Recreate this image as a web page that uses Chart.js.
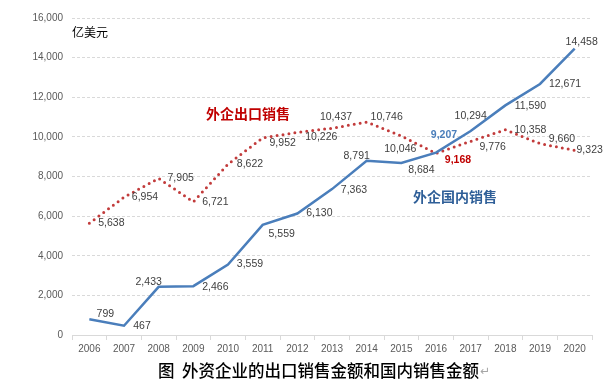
<!DOCTYPE html>
<html>
<head>
<meta charset="utf-8">
<script src="https://cdn.jsdelivr.net/npm/chart.js@4.4.0/dist/chart.umd.min.js"></script>
<style>
html,body{margin:0;padding:0;background:#fff;}
#wrap{width:605px;height:384px;position:relative;}
</style>
</head>
<body>
<div id="wrap"><canvas id="c" width="605" height="384"></canvas></div>
<script>
const years = ['2006','2007','2008','2009','2010','2011','2012','2013','2014','2015','2016','2017','2018','2019','2020'];
const domesticSales = [799,467,2433,2466,3559,5559,6130,7363,8791,8684,9207,10294,11590,12671,14458];
const exportSales = [5638,6954,7905,6721,8622,9952,10226,10437,10746,10046,9168,9776,10358,9660,9323];
const domesticName = '外企国内销售';
const exportName = '外企出口销售';
const unitLabel = '亿美元';
const titleText = '图  外资企业的出口销售金额和国内销售金额';

// label offsets (px) relative to the point: [dx, dy]
const domesticLabelOffsets = [[16,-5],[18,0],[-10,-5],[22,1],[22,0],[19,9],[22,0],[22,1],[-10,-5],[20,7],[8,-17],[0,-15],[25,1],[25,0],[7,-6]];
const exportLabelOffsets = [[22,0],[21,0],[22,0],[22,0],[22,0],[20,5],[24,5],[4,-11],[20,-5],[-1,13],[22,7],[22,6],[25,0],[22,-5],[15,0]];

const BLUE = '#4a7ebb';
const RED = '#c23b3b';
const fmt = v => v.toLocaleString('en-US');

const labelPlugin = {
  id: 'labels',
  afterDatasetsDraw(chart) {
    const ctx = chart.ctx;
    ctx.save();
    ctx.textAlign = 'center';
    ctx.textBaseline = 'middle';
    const offsetsAll = [domesticLabelOffsets, exportLabelOffsets];
    chart.data.datasets.forEach((ds, di) => {
      const meta = chart.getDatasetMeta(di);
      meta.data.forEach((pt, i) => {
        const off = offsetsAll[di][i];
        let color = '#404040', weight = 'normal';
        if (di === 0 && i === 10) { color = BLUE; weight = 'bold'; }
        if (di === 1 && i === 10) { color = '#c00000'; weight = 'bold'; }
        ctx.font = weight + ' 10.5px "Liberation Sans", Arial, sans-serif';
        ctx.fillStyle = color;
        ctx.fillText(fmt(ds.data[i]), pt.x + off[0], pt.y + off[1]);
      });
    });
    // series names
    ctx.font = 'bold 14px "Noto Sans CJK SC", sans-serif';
    ctx.textAlign = 'left';
    ctx.fillStyle = '#c00000';
    ctx.fillText(exportName, 206, 114);
    ctx.fillStyle = '#2f5f98';
    ctx.fillText(domesticName, 413, 197);
    // unit
    ctx.font = '12px "Noto Sans CJK SC", sans-serif';
    ctx.fillStyle = '#000';
    ctx.fillText(unitLabel, 72, 32);
    // title
    ctx.font = '500 16.5px "Noto Sans CJK SC", sans-serif';
    ctx.fillStyle = '#000';
    ctx.fillText(titleText, 158, 371);
    const w = ctx.measureText(titleText).width;
    ctx.fillStyle = '#a6a6a6';
    ctx.font = '12px "DejaVu Sans", sans-serif';
    ctx.fillText('↵', 158 + w + 1, 372);
    ctx.restore();
  }
};

new Chart(document.getElementById('c'), {
  type: 'line',
  data: {
    labels: years,
    datasets: [
      {
        label: domesticName,
        data: domesticSales,
        borderColor: BLUE,
        borderWidth: 2.5,
        pointRadius: 0,
        tension: 0,
        fill: false
      },
      {
        label: exportName,
        data: exportSales,
        borderColor: RED,
        borderWidth: 3,
        borderDash: [0, 6],
        borderCapStyle: 'round',
        pointRadius: 0,
        tension: 0,
        fill: false
      }
    ]
  },
  options: {
    responsive: false,
    animation: false,
    devicePixelRatio: 1,
    layout: { padding: { top: 18, right: 13, left: 0, bottom: 0 } },
    plugins: { legend: { display: false }, tooltip: { enabled: false }, title: { display: false } },
    scales: {
      x: {
        offset: true,
        grid: { drawOnChartArea: false, drawTicks: true, tickLength: 5, color: '#d9d9d9', offset: true },
        border: { display: true, color: '#d9d9d9', width: 1 },
        ticks: { color: '#595959', font: { family: '"Liberation Sans", Arial, sans-serif', size: 10 }, padding: 3, maxRotation: 0, autoSkip: false },
        afterFit(s) { s.height = 49; }
      },
      y: {
        min: 0, max: 16000,
        grid: { color: '#d9d9d9', drawTicks: false },
        border: { display: false, dash: [3, 2] },
        ticks: { stepSize: 2000, color: '#595959', font: { family: '"Liberation Sans", Arial, sans-serif', size: 10 }, padding: 9, callback: v => fmt(v) },
        afterFit(s) { s.width = 72; }
      }
    }
  },
  plugins: [labelPlugin]
});
</script>
</body>
</html>
